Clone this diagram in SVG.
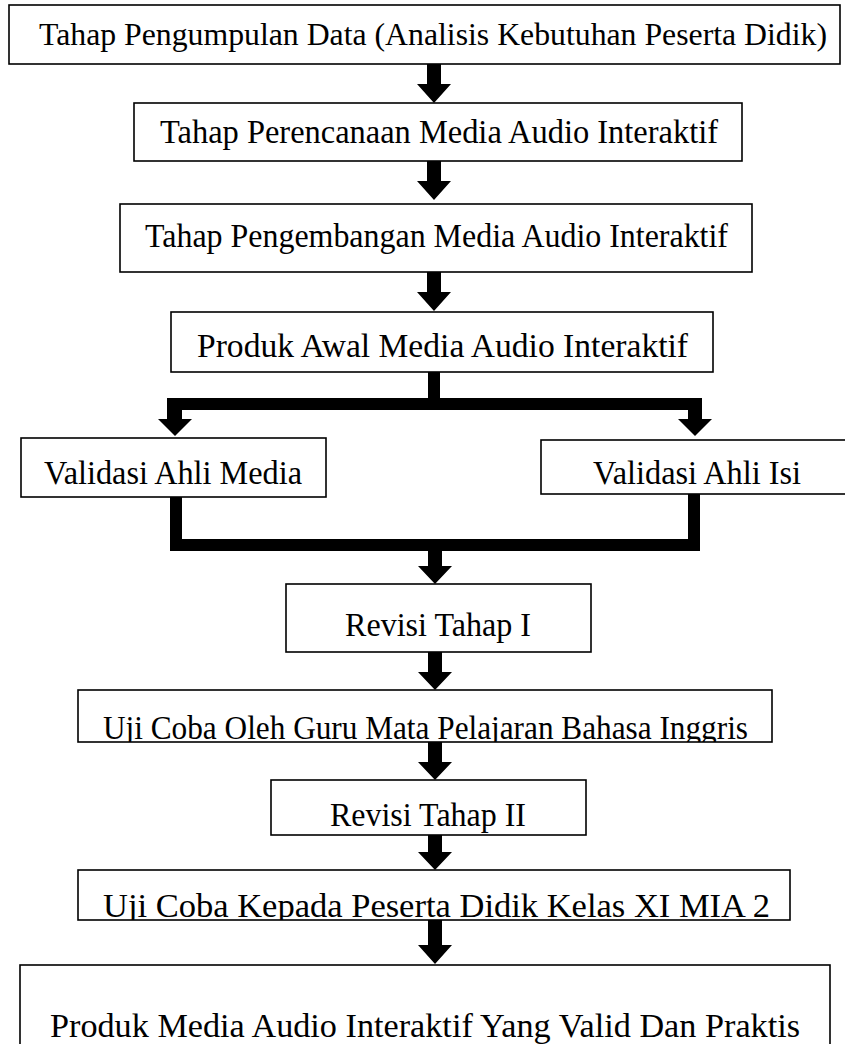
<svg xmlns="http://www.w3.org/2000/svg" width="845" height="1044" viewBox="0 0 845 1044">
<style>
.box{fill:#fff;stroke:#000;stroke-width:1.6}
.t{font-family:"Liberation Serif","Times New Roman",serif;font-size:33px;fill:#000;text-anchor:middle}
.c{fill:#000;stroke:none}
</style>
<defs>
<clipPath id="clip7"><rect x="78" y="690" width="694" height="52"/></clipPath>
<clipPath id="clip9"><rect x="78" y="870" width="712" height="50"/></clipPath>
</defs>
<rect width="845" height="1044" fill="#fff"/>
<g id="connectors">
<polygon class="c" points="427,64 441,64 441,84 451,84 434,103 417,84 427,84"/>
<polygon class="c" points="427,161 441,161 441,181 451,181 434,200 417,181 427,181"/>
<polygon class="c" points="427,272 441,272 441,292 451,292 434,311 417,292 427,292"/>
<rect class="c" x="428" y="372" width="12" height="28"/>
<rect class="c" x="167" y="398" width="535" height="12"/>
<polygon class="c" points="167,398 182,398 182,419 192,419 175,436 158,419 167,419"/>
<polygon class="c" points="688,398 702,398 702,419 712,419 695,436 678,419 688,419"/>
<rect class="c" x="170" y="497" width="12" height="54"/>
<rect class="c" x="688" y="494" width="12" height="57"/>
<rect class="c" x="170" y="539" width="530" height="12"/>
<polygon class="c" points="428,551 442,551 442,566 452,566 435,584 418,566 428,566"/>
<polygon class="c" points="428,652 442,652 442,672 452,672 435,690 418,672 428,672"/>
<polygon class="c" points="428,742 442,742 442,762 452,762 435,780 418,762 428,762"/>
<polygon class="c" points="428,835 442,835 442,852 452,852 435,870 418,852 428,852"/>
<polygon class="c" points="428,920 442,920 442,945 452,945 435,964 418,945 428,945"/>
</g>
<g id="n1"><rect class="box" x="9" y="5" width="831" height="59"/><text class="t" x="433" y="45" style="font-size:31px" textLength="788" lengthAdjust="spacingAndGlyphs">Tahap Pengumpulan Data (Analisis Kebutuhan Peserta Didik)</text></g>
<g id="n2"><rect class="box" x="134" y="103" width="608" height="58"/><text class="t" x="439" y="143" textLength="558" lengthAdjust="spacingAndGlyphs">Tahap Perencanaan Media Audio Interaktif</text></g>
<g id="n3"><rect class="box" x="120" y="204" width="632" height="68"/><text class="t" x="436.5" y="247" textLength="583" lengthAdjust="spacingAndGlyphs">Tahap Pengembangan Media Audio Interaktif</text></g>
<g id="n4"><rect class="box" x="171" y="312" width="542" height="60"/><text class="t" x="442.5" y="357" textLength="491" lengthAdjust="spacingAndGlyphs">Produk Awal Media Audio Interaktif</text></g>
<g id="n5"><rect class="box" x="21" y="438" width="305" height="59"/><text class="t" x="173" y="484" textLength="258" lengthAdjust="spacingAndGlyphs">Validasi Ahli Media</text></g>
<g id="n6"><rect class="box" x="541" y="440" width="310" height="54"/><text class="t" x="697" y="484" textLength="208" lengthAdjust="spacingAndGlyphs">Validasi Ahli Isi</text></g>
<g id="n7"><rect class="box" x="286" y="584" width="305" height="68"/><text class="t" x="438" y="636" textLength="186" lengthAdjust="spacingAndGlyphs">Revisi Tahap I</text></g>
<g id="n8"><rect class="box" x="78" y="690" width="694" height="52"/><text class="t" x="425.5" y="739" textLength="645" lengthAdjust="spacingAndGlyphs" clip-path="url(#clip7)">Uji Coba Oleh Guru Mata Pelajaran Bahasa Inggris</text></g>
<g id="n9"><rect class="box" x="271" y="780" width="315" height="55"/><text class="t" x="428" y="826" textLength="196" lengthAdjust="spacingAndGlyphs">Revisi Tahap II</text></g>
<g id="n10"><rect class="box" x="78" y="870" width="712" height="50"/><text class="t" x="436.5" y="917" textLength="667" lengthAdjust="spacingAndGlyphs" clip-path="url(#clip9)">Uji Coba Kepada Peserta Didik Kelas XI MIA 2</text></g>
<g id="n11"><rect class="box" x="20" y="965" width="810" height="90"/><text class="t" x="425" y="1037" textLength="750" lengthAdjust="spacingAndGlyphs">Produk Media Audio Interaktif Yang Valid Dan Praktis</text></g>
</svg>
